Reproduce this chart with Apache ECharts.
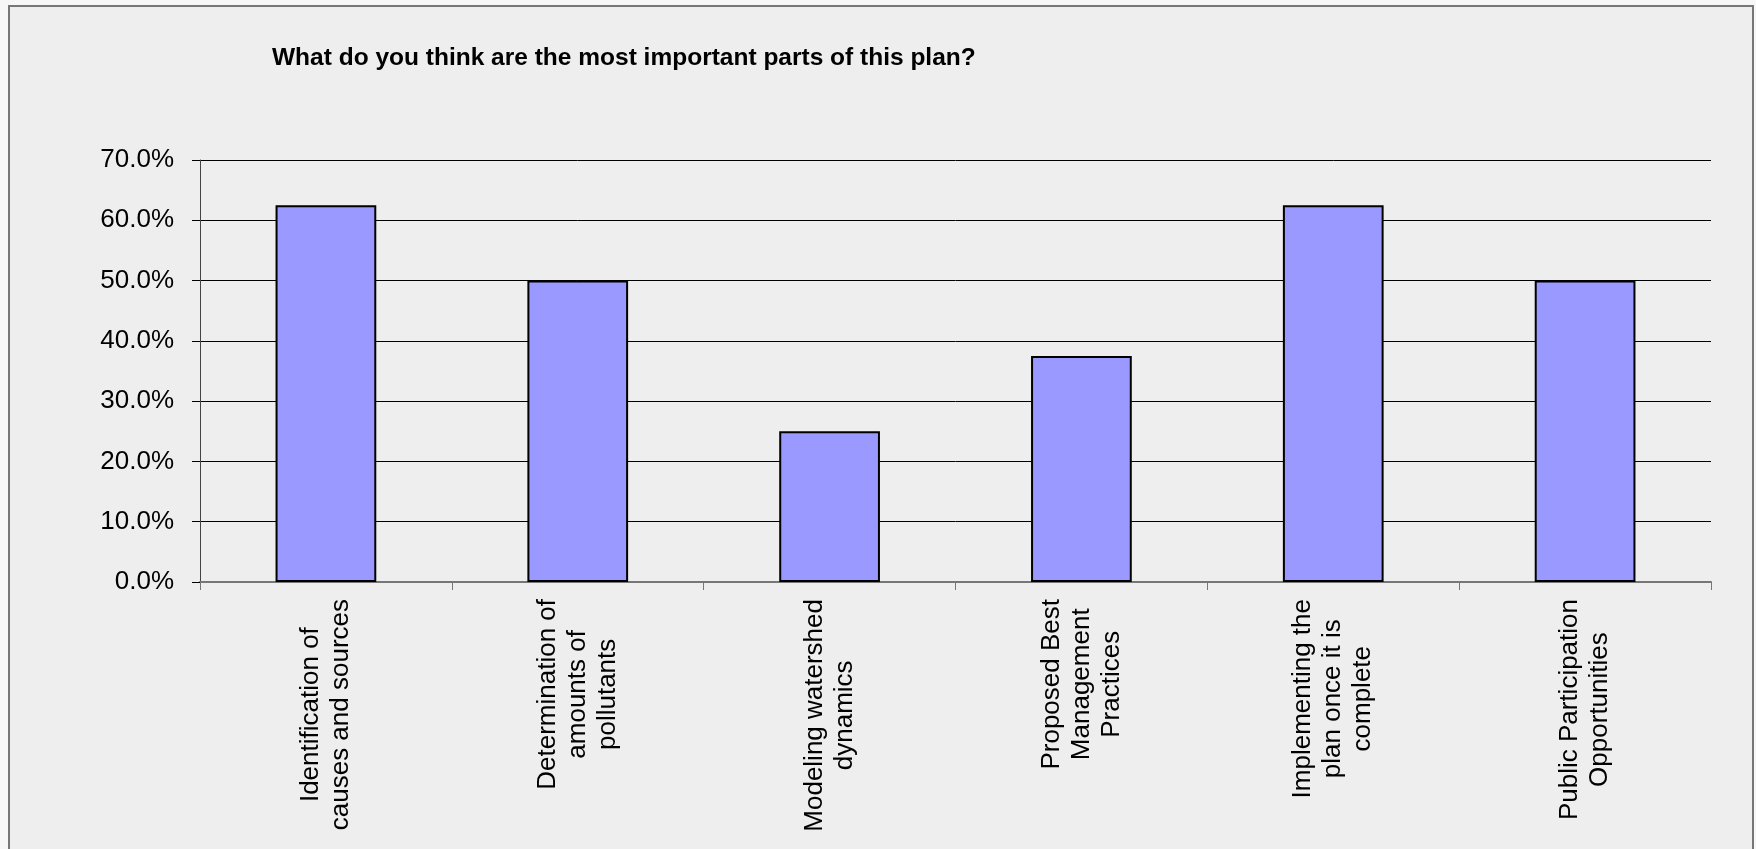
<!DOCTYPE html>
<html>
<head>
<meta charset="utf-8">
<script src="https://cdn.jsdelivr.net/npm/echarts@6/dist/echarts.min.js"></script>
<style>
  html, body { margin: 0; padding: 0; background: #f7f7f7; }
  #chart { width: 1756px; height: 849px; }
</style>
</head>
<body>
<div id="chart"></div>
<script>
const titleText = 'What do you think are the most important parts of this plan?';
const categories = [
  'Identification of\ncauses and sources',
  'Determination of\namounts of\npollutants',
  'Modeling watershed\ndynamics',
  'Proposed Best\nManagement\nPractices',
  'Implementing the\nplan once it is\ncomplete',
  'Public Participation\nOpportunities'
];
const percentValues = [62.5, 50.0, 25.0, 37.5, 62.5, 50.0];
const yTicks = { min: 0, max: 70, interval: 10 };

const chart = echarts.init(document.getElementById('chart'), null, { renderer: 'canvas' });
const sans = "'Liberation Sans', Arial, Helvetica, sans-serif";
const narrow = "'Liberation Sans Narrow', 'Arial Narrow', 'Liberation Sans', sans-serif";

chart.setOption({
  backgroundColor: 'transparent',
  animation: false,
  graphic: [{
    type: 'rect',
    z: -10,
    shape: { x: 9, y: 6, width: 1744, height: 900 },
    style: { fill: '#eeeeee', stroke: '#777777', lineWidth: 2 },
    silent: true
  }],
  title: {
    text: titleText,
    left: 267,
    top: 41,
    textStyle: { fontFamily: sans, fontWeight: 'bold', fontSize: 24.5, color: '#000' }
  },
  grid: { left: 200, right: 45, top: 160, bottom: 267, containLabel: false },
  xAxis: {
    type: 'category',
    data: categories,
    boundaryGap: true,
    axisLine: { show: true, lineStyle: { color: '#777777', width: 2 } },
    axisTick: { show: true, length: 8, lineStyle: { color: '#777777', width: 1 } },
    axisLabel: {
      interval: 0,
      rotate: 90,
      margin: 17,
      formatter: function (v) {
        return v.split('\n').map(function (s) { return '{c|' + s + '}'; }).join('\n');
      },
      rich: {
        c: { align: 'center', fontFamily: sans, fontSize: 26, lineHeight: 30, color: '#000' }
      }
    }
  },
  yAxis: {
    type: 'value',
    min: yTicks.min,
    max: yTicks.max,
    interval: yTicks.interval,
    axisLine: { show: true, lineStyle: { color: '#444444', width: 1 } },
    axisTick: { show: true, length: 8, lineStyle: { color: '#000', width: 1 } },
    splitLine: { show: true, lineStyle: { color: '#000', width: 1 } },
    axisLabel: {
      margin: 26,
      fontFamily: narrow,
      fontSize: 26,
      color: '#000',
      formatter: function (v) { return v.toFixed(1) + '%'; }
    }
  },
  series: [{
    type: 'bar',
    data: percentValues,
    barWidth: '40%',
    itemStyle: { color: '#9999ff', borderColor: '#000', borderWidth: 2 }
  }]
});
</script>
</body>
</html>
